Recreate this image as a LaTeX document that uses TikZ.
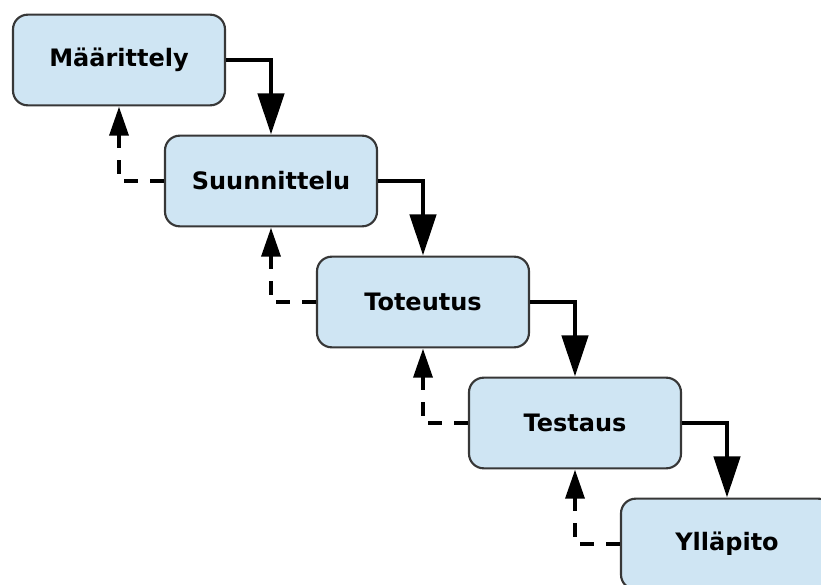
\documentclass[tikz,border=0pt]{standalone}
\usepackage{fontspec}
\setmainfont{DejaVu Sans}
\usetikzlibrary{arrows.meta}
\definecolor{boxfill}{RGB}{207,229,243}
\definecolor{boxline}{RGB}{55,55,55}
\begin{document}
\begin{tikzpicture}[x=0.75pt,y=-0.75pt,
  phase/.style={draw=boxline,line width=1.6pt,fill=boxfill,rounded corners=11pt,
    minimum width=159pt,minimum height=68pt,inner sep=0pt,
    font=\fontsize{18}{20}\selectfont\bfseries},
  fwd/.style={line width=3.6pt,-{Triangle[width=19.5pt,length=31pt]}},
  back/.style={line width=3.4pt,dash pattern=on 10.5pt off 9pt,-{Triangle[width=14pt,length=22pt]}}]
\useasboundingbox (0,0) rectangle (821,585);
\node[phase] (b1) at (119,60) {Määrittely};
\node[phase] (b2) at (271,181) {Suunnittelu};
\node[phase] (b3) at (423,302) {Toteutus};
\node[phase] (b4) at (575,423) {Testaus};
\node[phase] (b5) at (727,544) {Ylläpito};
\foreach \a/\b in {b1/b2,b2/b3,b3/b4,b4/b5}{
  \draw[fwd] (\a.east) -| (\b.north);
  \draw[back] (\b.west) -| (\a.south);
}
\end{tikzpicture}
\end{document}
